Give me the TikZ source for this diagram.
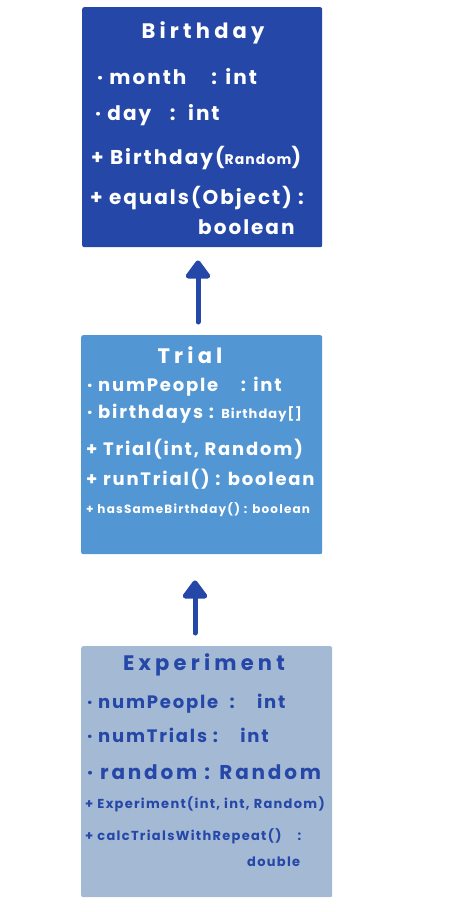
\documentclass[tikz,border=0pt]{standalone}
\usepackage{fontspec}
\setmainfont{Poppins}
\usetikzlibrary{arrows.meta}
\definecolor{birthdayblue}{HTML}{2548A8}
\definecolor{trialblue}{HTML}{5296D4}
\definecolor{experimentgrey}{HTML}{A4B9D3}
\newcommand{\handsize}[2]{\fontsize{#1}{#1}\selectfont\addfontfeatures{LetterSpace=#2}}

\begin{document}
\begin{tikzpicture}[x=1pt, y=-1pt, line cap=round, line join=round,
  classbox/.style={rectangle, rounded corners=2pt, inner sep=0pt, anchor=north west},
  classname/.style={inner sep=0pt, font=\bfseries\handsize{21}{20}},
  bigmember/.style={anchor=west, inner sep=0pt, font=\bfseries\handsize{20}{10}},
  member/.style={anchor=west, inner sep=0pt, font=\bfseries\handsize{18}{10}},
  smallmember/.style={anchor=west, inner sep=0pt, font=\bfseries\handsize{13}{10}},
  inherit/.style={draw=birthdayblue, line width=5pt, -{Triangle[length=20pt, width=28pt, round]}}]
  \useasboundingbox (0,0) rectangle (452,912);

  % The three class boxes, top to bottom.
  \node[classbox, fill=birthdayblue, minimum width=240pt, minimum height=240pt] (birthday) at (82,7) {};
  \node[classbox, fill=trialblue, minimum width=241pt, minimum height=219pt] (trial) at (81,335) {};
  \node[classbox, fill=experimentgrey, minimum width=251pt, minimum height=251pt] (experiment) at (81,646) {};

  % Birthday: fields and methods.
  \begin{scope}[every node/.append style={text=white}]
    \node[classname] (birthdayname) at (203,33) {Birthday};
    \node[bigmember] (month) at (97,77) {· month\ \ \ \ : int};
    \node[bigmember] (day) at (95,115) {· day\ \ \ :\ \ int};
    \node[bigmember] (birthdayctor) at (91,158) {+ Birthday({\handsize{14}{8}Random})};
    \node[bigmember] (equals) at (90,198) {+ equals(Object) :};
    \node[bigmember] (equalsret) at (198,227) {boolean};
  \end{scope}

  % Trial: fields and methods.
  \begin{scope}[every node/.append style={text=white}]
    \node[classname] (trialname) at (190,355) {Trial};
    \node[member] (numpeople) at (87,387) {· numPeople\ \ \ \ : int};
    \node[member] (birthdays) at (87,414) {· birthdays : {\handsize{13}{8}Birthday[]}};
    \node[member] (trialctor) at (86,449) {+ Trial(int, Random)};
    \node[member] (runtrial) at (86,479) {+ runTrial() : boolean};
    \node[smallmember, font=\bfseries\handsize{12}{10}] (hassame) at (86,510) {+ hasSameBirthday() : boolean};
  \end{scope}

  % Experiment: fields and methods.
  \begin{scope}[every node/.append style={text=birthdayblue}]
    \node[classname] (experimentname) at (204,665) {Experiment};
    \node[member] (exppeople) at (87,704) {· numPeople\ \ :\ \ \ \ int};
    \node[member] (exptrials) at (87,735) {· numTrials :\ \ \ \ int};
    \node[member, font=\bfseries\handsize{20}{14}] (exprandom) at (87,772) {· random : Random};
    \node[smallmember] (expctor) at (85,804) {+ Experiment(int, int, Random)};
    \node[smallmember] (calc) at (85,836) {+ calcTrialsWithRepeat()\ \ \ \ :};
    \node[smallmember] (calcret) at (247,862) {double};
  \end{scope}

  % Inheritance arrows between the boxes.
  \coordinate (upperx) at (198,0);
  \coordinate (lowerx) at (195,0);
  \draw[inherit, shorten <=13pt, shorten >=13pt] (trial.north -| upperx) -- (birthday.south -| upperx);
  \draw[inherit, shorten <=13pt, shorten >=26pt] (experiment.north -| lowerx) -- (trial.south -| lowerx);
\end{tikzpicture}
\end{document}
